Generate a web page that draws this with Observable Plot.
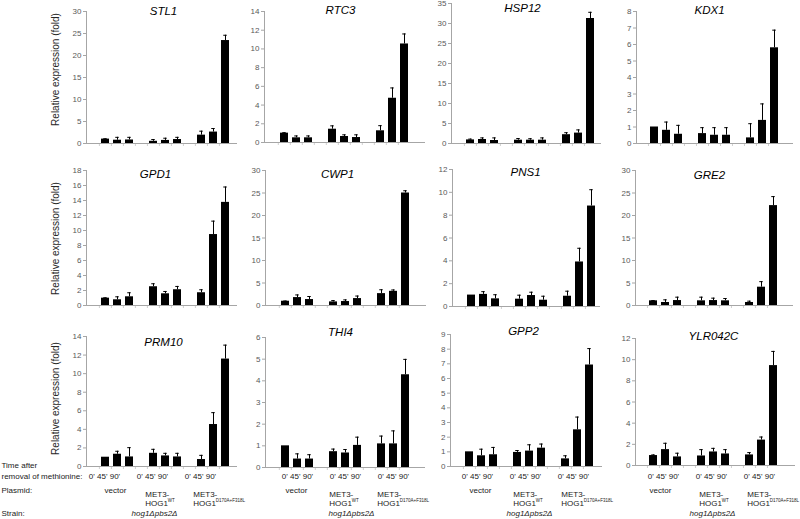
<!DOCTYPE html>
<html><head><meta charset="utf-8">
<script src="https://cdn.jsdelivr.net/npm/d3@7"></script>
<script src="https://cdn.jsdelivr.net/npm/@observablehq/plot@0.6"></script>
<style>
body{margin:0;background:#fff;}
#chart{position:relative;width:800px;height:519px;overflow:hidden;background:#fff;font-family:Arial,"Liberation Sans",sans-serif;}
#chart svg{position:absolute;overflow:visible;}
</style></head><body><div id="chart"></div>
<script>
// ---- data ----
const conditions = ["v0","v45","v90","w0","w45","w90","m0","m45","m90"];
const slots = ["v0","v45","v90","gap1","w0","w45","w90","gap2","m0","m45","m90"];
const timeLabel = "0' 45' 90'";
const genes = ["STL1","RTC3","HSP12","KDX1","GPD1","CWP1","PNS1","GRE2","PRM10","THI4","GPP2","YLR042C"];
const yMax  = [30,14,35,8, 18,30,12,30, 14,6,9,12];
const yStep = [5,2,5,1, 2,5,2,5, 2,1,1,2];

const meanSTL1 = [1.0,0.75,0.8, 0.5,0.7,0.9, 1.9,2.6,23.4];
const errSTL1  = [0.08,0.65,0.6, 0.4,0.5,0.5, 0.9,0.8,1.2];
const meanRTC3 = [1.0,0.5,0.5, 1.42,0.64,0.53, 1.25,4.73,10.53];
const errRTC3  = [0.05,0.2,0.2, 0.36,0.18,0.29, 0.55,1.1,1.07];
const meanHSP12 = [0.9,1.0,0.75, 0.83,0.83,0.83, 2.2,2.6,31.25];
const errHSP12  = [0.2,0.4,0.65, 0.42,0.37,0.57, 0.5,0.8,1.55];
const meanKDX1 = [1.0,0.8,0.56, 0.6,0.5,0.5, 0.34,1.4,5.8];
const errKDX1  = [0,0.5,0.54, 0.36,0.46,0.46, 0.86,1.0,1.07];
const meanGPD1 = [0.98,0.76,1.16, 2.5,1.56,2.1, 1.7,9.46,13.75];
const errGPD1  = [0.05,0.4,0.54, 0.4,0.31,0.44, 0.4,1.79,2.05];
const meanCWP1 = [0.95,1.76,1.32, 0.8,0.88,1.54, 2.64,3.15,25.0];
const errCWP1  = [0.05,0.59,0.68, 0.3,0.37,0.56, 0.86,0.3,0.5];
const meanPNS1 = [1.0,1.06,0.67, 0.64,0.96,0.55, 0.9,3.9,8.8];
const errPNS1  = [0.03,0.24,0.36, 0.35,0.29,0.35, 0.44,1.2,1.43];
const meanGRE2 = [1.04,0.67,1.1, 1.04,1.1,1.04, 0.67,4.07,22.2];
const errGRE2  = [0.06,0.59,0.75, 0.81,0.53,0.51, 0.29,1.23,2.0];
const meanPRM10 = [1.0,1.32,1.03, 1.42,1.14,1.03, 0.75,4.52,11.57];
const errPRM10  = [0.03,0.32,1.0, 0.43,0.28,0.39, 0.45,1.28,1.5];
const meanTHI4 = [1.0,0.39,0.39, 0.73,0.67,1.02, 1.09,1.09,4.28];
const errTHI4  = [0.01,0.24,0.2, 0.12,0.16,0.38, 0.36,0.6,0.71];
const meanGPP2 = [1.0,0.73,0.8, 0.96,1.05,1.25, 0.52,2.5,6.92];
const errGPP2  = [0.03,0.45,0.5, 0.13,0.43,0.28, 0.21,0.87,1.12];
const meanYLR042C = [0.94,1.5,0.81, 0.9,1.28,1.09, 1.0,2.4,9.44];
const errYLR042C  = [0.06,0.6,0.35, 0.6,0.34,0.41, 0.22,0.29,1.34];

const means = [meanSTL1,meanRTC3,meanHSP12,meanKDX1,meanGPD1,meanCWP1,meanPNS1,meanGRE2,meanPRM10,meanTHI4,meanGPP2,meanYLR042C];
const errs  = [errSTL1,errRTC3,errHSP12,errKDX1,errGPD1,errCWP1,errPNS1,errGRE2,errPRM10,errTHI4,errGPP2,errYLR042C];

const yTitle = "Relative expression (fold)";
const rowLabels = ["Time after", "removal of methionine:", "Plasmid:", "Strain:"];
const plasmidVector = "vector";
const plasmidMet = "MET3-";
const plasmidHog = "HOG1";
const supers = [{c:"w0", t:"WT"}, {c:"m0", t:"D170A+F318L"}];
const strain = "hog1\u0394pbs2\u0394";

// ---- layout (pixels) ----
const axisX      = [86,264,451,636, 86,265,452,635, 86,265,450,635];
const frameRight = [237,425,601,793, 237,426,600,793, 237,425,602,795];
const topY       = [11,11,3,11, 170,170,169,170, 336,337,334,338];
const zeroY      = [143,142,143,143, 305,305,306,305, 466,467,466,465];
const slotW      = [12.2,12.4,12.2,12.1, 12.2,12.4,12.2,12.1, 12.2,12.4,12.2,12.1];
const titleX     = [163,340,522,709, 155,337,525,709, 163,340,523,713];
const titleY     = [10.5,10,8,10, 174,174,172,175, 342,332,331,336];
const yLabelY    = [69,238,398];
const timeDx = [-13,0,-4,-2];
const vecDx  = [-2,-1,-1,-5];
const metDx  = [-8,-4,-4,-2];
const hogDx  = [-11,6,0,-1];
const barW = 8.5;
const axisColor = "#a6a6a6";
const tickText = "#595959";
const font = "Arial, 'Liberation Sans', sans-serif";

const root = document.getElementById("chart");

genes.forEach((gene, i) => {
  const col = i % 4, row = Math.floor(i / 4);
  const rows = conditions.map((c, k) => ({c, m: means[i][k], e: errs[i][k]}));
  const withErr = rows.filter(d => d.e > 0.04);
  const mL = col === 0 ? axisX[i] : 40;
  const mT = 12, mR = 8;
  const mB = row === 2 ? 519 - zeroY[i] : 10;
  const fw = frameRight[i] - axisX[i];
  const fh = zeroY[i] - topY[i];
  const s = slotW[i];
  const p = 1 - barW / s;
  const zero = zeroY[i];
  const mid = {textAnchor: "middle", lineAnchor: "middle"};

  const marks = [
    Plot.axisY({ticks: d3.range(0, yMax[i] + 1e-9, yStep[i]), tickFormat: d => String(Math.round(d)),
      tickSize: 3, tickPadding: 2, fontSize: 8, fill: tickText, stroke: axisColor, label: null}),
    Plot.axisX({ticks: slots, tickSize: 3, tickFormat: () => "", dx: -s / 2, stroke: "#d0d0d0", label: null}),
    Plot.frame({anchor: "left", stroke: axisColor}),
    Plot.ruleY([0], {stroke: axisColor}),
    Plot.barY(rows, {x: "c", y: "m", fill: "#000"}),
    Plot.ruleX(withErr, {x: "c", y1: "m", y2: d => d.m + d.e, stroke: "#000", strokeWidth: 1}),
    Plot.tickY(withErr, {x: "c", y: d => d.m + d.e, stroke: "#000", insetLeft: (barW - 4) / 2, insetRight: (barW - 4) / 2}),
    Plot.text([gene], {...mid, frameAnchor: "top-left", dx: titleX[i] - axisX[i], dy: titleY[i] - topY[i],
      fontStyle: "italic", fontSize: 11.5, fill: "#000", fontFamily: font})
  ];
  if (col === 0) {
    marks.push(Plot.text([yTitle], {...mid, frameAnchor: "top-left", dx: 55 - axisX[i], dy: yLabelY[row] - topY[i],
      rotate: -90, fontSize: 10, fill: "#262626", fontFamily: font}));
  }
  if (row === 2) {
    const lab = {frameAnchor: "bottom", lineAnchor: "middle", fontSize: 8, fill: "#1a1a1a", fontFamily: font};
    const metX = metDx[col] - barW / 2 + 4;
    marks.push(
      Plot.text(["v45","w45","m45"], {...lab, x: d => d, text: () => timeLabel, textAnchor: "middle", dx: timeDx[col], dy: 476 - zero}),
      Plot.text(["v45"], {...lab, x: d => d, text: () => plasmidVector, textAnchor: "middle", dx: vecDx[col], dy: 490 - zero}),
      Plot.text(["w0","m0"], {...lab, x: d => d, text: () => plasmidMet, textAnchor: "start", dx: metX, dy: 494 - zero}),
      Plot.text(["w0","m0"], {...lab, x: d => d, text: () => plasmidHog, textAnchor: "start", dx: metX, dy: 503 - zero}),
      Plot.text(supers, {...lab, x: "c", text: "t", fontSize: 4.5, textAnchor: "start", dx: metX + 22.5, dy: 500.5 - zero}),
      Plot.text(["w45"], {...lab, x: d => d, text: () => strain, textAnchor: "middle", fontStyle: "italic", dx: hogDx[col], dy: 513 - zero})
    );
    if (col === 0) {
      const ly = [465, 476, 490, 513];
      rowLabels.forEach((t, k) => {
        marks.push(Plot.text([t], {frameAnchor: "bottom-left", textAnchor: "start", lineAnchor: "middle",
          dx: 1 - axisX[i], dy: ly[k] - zero, fontSize: 8, fill: "#1a1a1a", fontFamily: font}));
      });
    }
  }

  const svg = Plot.plot({
    width: mL + fw + mR, height: mT + fh + mB,
    marginLeft: mL, marginRight: mR, marginTop: mT, marginBottom: mB,
    x: {type: "band", domain: slots, range: [mL + s, mL + 12 * s], paddingInner: p, paddingOuter: p / 2, axis: null, label: null},
    y: {domain: [0, yMax[i]], axis: null, label: null},
    style: {background: "transparent", fontFamily: font, fontSize: "8px", overflow: "visible"},
    marks
  });
  svg.style.left = (axisX[i] - mL) + "px";
  svg.style.top = (topY[i] - mT) + "px";
  root.appendChild(svg);
});
</script></body></html>
